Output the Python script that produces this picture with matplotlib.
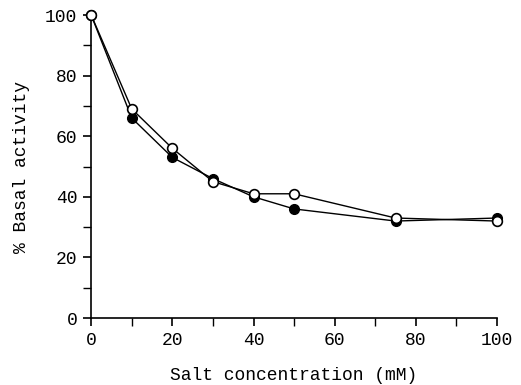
import matplotlib
matplotlib.use("Agg")
import matplotlib.pyplot as plt
from matplotlib.ticker import MultipleLocator

salt_mM = [0, 10, 20, 30, 40, 50, 75, 100]
filled_series = [100, 66, 53, 46, 40, 36, 32, 33]
open_series = [100, 69, 56, 45, 41, 41, 33, 32]
xticks = [0, 20, 40, 60, 80, 100]
yticks = [0, 20, 40, 60, 80, 100]

plt.rcParams['font.family'] = ['Liberation Mono', 'DejaVu Sans Mono']

fig = plt.figure(figsize=(5.21, 3.85), dpi=100)
ax = fig.add_axes([0.175, 0.174, 0.779, 0.787])

ax.plot(salt_mM, filled_series, color='black', lw=1.0, marker='o', ms=7,
        mfc='black', mec='black', zorder=3)
ax.plot(salt_mM, open_series, color='black', lw=1.0, marker='o', ms=7,
        mfc='white', mec='black', mew=1.2, zorder=4)

ax.set_xlim(0, 100)
ax.set_ylim(0, 100)
ax.set_xticks(xticks)
ax.set_yticks(yticks)
ax.xaxis.set_minor_locator(MultipleLocator(10))
ax.yaxis.set_minor_locator(MultipleLocator(10))
for s in ['top', 'right']:
    ax.spines[s].set_visible(False)
for s in ['left', 'bottom']:
    ax.spines[s].set_linewidth(1.2)
ax.tick_params(which='major', direction='out', length=6, width=1.2, labelsize=13, pad=4)
ax.tick_params(which='minor', direction='out', length=6, width=1.0)
ax.set_xlabel('Salt concentration (mM)', fontsize=13, labelpad=13)
ax.set_ylabel('% Basal activity', fontsize=13, labelpad=11)
for l in ax.lines:
    l.set_clip_on(False)

fig.savefig('out.png', dpi=100)
